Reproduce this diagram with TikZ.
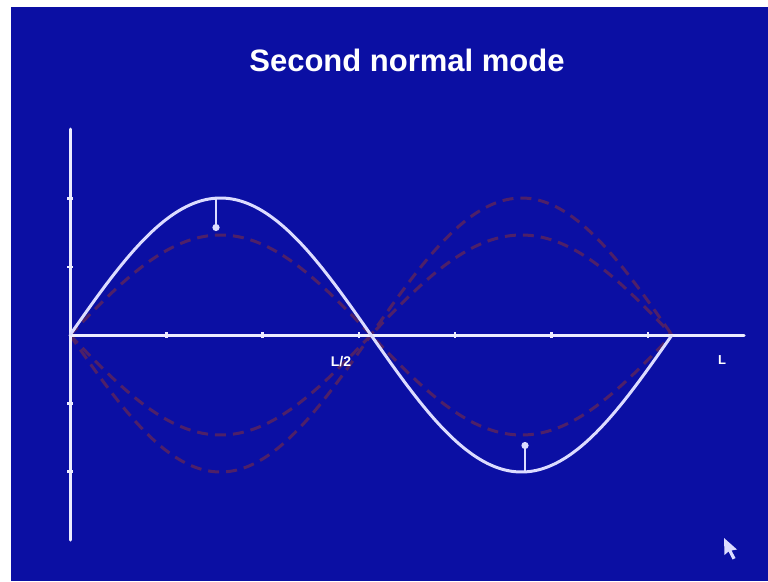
\documentclass[tikz,border=0pt]{standalone}
\usepackage{fontspec}
\setmainfont{Liberation Sans}
\usetikzlibrary{arrows.meta}
\definecolor{slide}{HTML}{0B0FA3}
\definecolor{chalk}{HTML}{DCDCFF}
\definecolor{axisline}{HTML}{ECECFF}
\definecolor{ghost}{HTML}{4E2068}

\begin{document}
\begin{tikzpicture}[x=1pt,y=-1pt,font=\bfseries,
    axis/.style={draw=axisline,line width=3pt,line cap=round},
    tick/.style={draw=axisline,line width=2.4pt},
    wave/.style={draw=chalk,line width=3pt,smooth,samples=120},
    snapshot/.style={draw=ghost,line width=3pt,dash pattern=on 11pt off 7pt,smooth,samples=120},
    motion/.style={draw=chalk,line width=2.6pt,-{Circle[length=7pt]}}]
  \useasboundingbox (0,0) rectangle (768,581);
  \fill[white] (0,0) rectangle (768,581);
  \fill[slide] (11,7) rectangle (768,581);

  \node[text=white,font=\fontsize{31}{36}\selectfont\bfseries] (title) at (407,60) {Second normal mode};

  % earlier positions of the string
  \draw[snapshot] plot[domain=70:672] (\x,{335-100*sin(0.59801*(\x-70))});
  \draw[snapshot] plot[domain=70:672] (\x,{335+100*sin(0.59801*(\x-70))});
  \draw[snapshot] plot[domain=70:672] (\x,{335+137*sin(0.59801*(\x-70))});

  % axes
  \coordinate (origin) at (70,335);
  \coordinate (xend) at (744,335);
  \coordinate (ytop) at (70,129);
  \coordinate (ybot) at (70,540);
  \draw[axis] (ytop) -- (ybot);
  \draw[axis] (origin) -- (xend);
  \foreach \k in {1,...,6}
    \draw[tick] ({70+96.3*\k},332) -- ++(0,6);
  \foreach \k in {-2,-1,1,2}
    \draw[tick] (67,{335+68.3*\k}) -- ++(6,0);

  % the string now
  \draw[wave] plot[domain=70:672] (\x,{335-137*sin(0.59801*(\x-70))});
  \coordinate (crest) at (216,198);
  \coordinate (trough) at (525,472);
  \draw[motion] (crest) -- ++(0,33);
  \draw[motion] (trough) -- ++(0,-30);

  \node[text=white,font=\fontsize{14}{16}\selectfont\bfseries] (half) at (341,362) {L/2};
  \node[text=white,font=\fontsize{13}{16}\selectfont\bfseries] (full) at (722,360) {L};

  % pointer
  \fill[chalk] (724,538) -- (724.5,555) -- (728.5,551.5) -- (732.5,559.5) -- (735.5,558)
    -- (731.5,550.5) -- (737,549.5) -- cycle;
\end{tikzpicture}
\end{document}
